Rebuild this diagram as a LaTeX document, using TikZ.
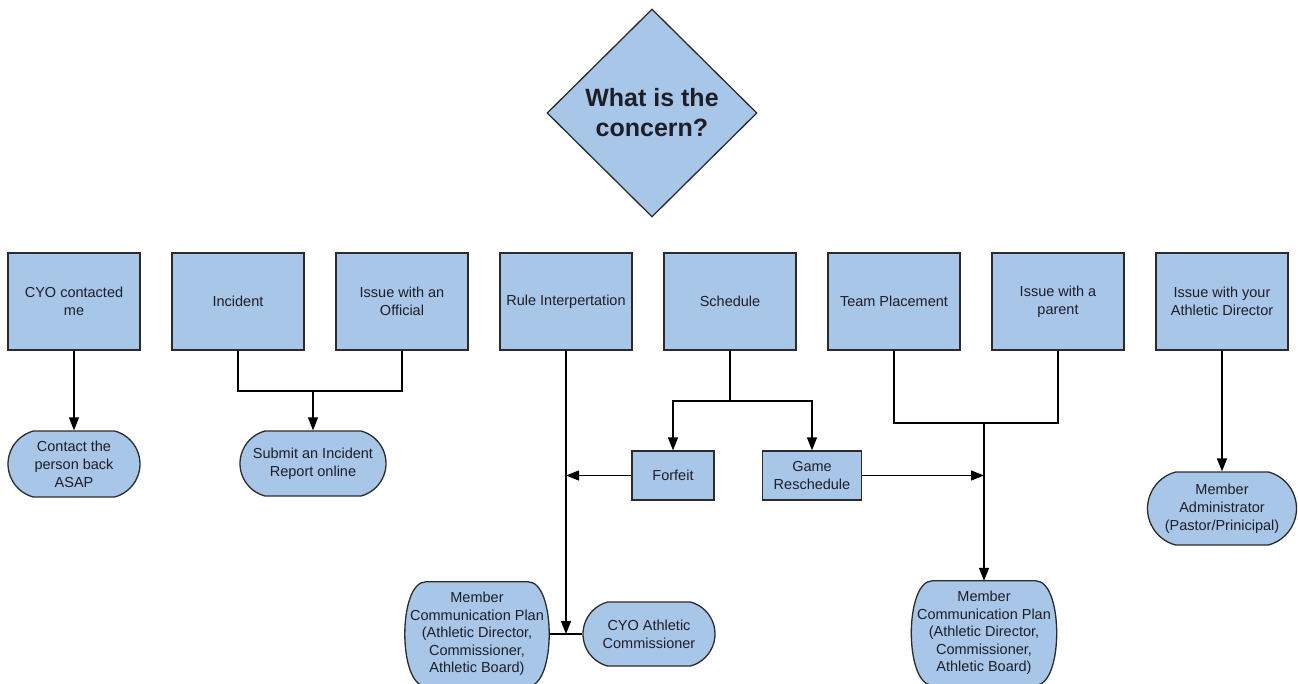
\documentclass[tikz,border=0pt]{standalone}
\usepackage{fontspec}
\setmainfont{Liberation Sans}
\usetikzlibrary{shapes.geometric,shapes.misc,arrows.meta,backgrounds,calc}
\definecolor{boxblue}{HTML}{A8C6E8}
\definecolor{edgecol}{HTML}{2B2B2B}
\definecolor{txtcol}{HTML}{1E1E28}
\tikzset{
  base/.style={draw=edgecol, fill=boxblue, line width=1.3pt, align=center, inner sep=0pt, text=txtcol,
    font=\fontsize{14.5}{18}\selectfont},
  stepbox/.style={base, rectangle, minimum width=132pt, minimum height=97pt},
  smallbox/.style={base, rectangle, minimum height=49pt},
  term/.style={base, rounded rectangle, rounded rectangle arc length=150},
  tallterm/.style={rectangle, align=center, inner sep=0pt, text=txtcol,
    minimum width=144pt, minimum height=104pt, font=\fontsize{14.5}{17.5}\selectfont},
  termline/.style={draw=edgecol, fill=boxblue, line width=1.3pt},
  decision/.style={base, diamond, shape aspect=1, minimum width=210pt, minimum height=208pt,
    font=\fontsize{25}{30}\bfseries\selectfont},
  conn/.style={line width=1.3pt, draw=black},
  arr/.style={conn, -{Triangle[length=13pt,width=10pt]}}
}
\begin{document}
\begin{tikzpicture}[x=1pt,y=-1pt]
\useasboundingbox (0,0) rectangle (1298,683);
\node[decision] (q) at (652,113) {What is the\\concern?};
\node[stepbox] (b1) at (74,301.5) {CYO contacted\\me};
\node[stepbox] (b2) at (238,301.5) {Incident};
\node[stepbox] (b3) at (402,301.5) {Issue with an\\Official};
\node[stepbox] (b4) at (566,301.5) {Rule Interpertation};
\node[stepbox] (b5) at (730,301.5) {Schedule};
\node[stepbox] (b6) at (894,301.5) {Team Placement};
\node[stepbox] (b7) at (1058,301.5) {Issue with a\\parent};
\node[stepbox] (b8) at (1222,301.5) {Issue with your\\Athletic Director};

\node[term, minimum width=132pt, minimum height=66pt] (t1) at (74,464) {Contact the\\person back\\ASAP};
\node[term, minimum width=146pt, minimum height=65pt] (t2) at (313,463.5) {Submit an Incident\\Report online};
\node[smallbox, minimum width=82pt] (ff) at (673,475.5) {Forfeit};
\node[smallbox, minimum width=99pt] (gr) at (812,475.5) {Game\\Reschedule};
\node[tallterm] (t3) at (477,634) {Member\\Communication Plan\\(Athletic Director,\\Commissioner,\\Athletic Board)};
\node[term, minimum width=132pt, minimum height=64pt] (t4) at (649,634) {CYO Athletic\\Commissioner};
\node[tallterm, minimum width=145pt] (t5) at (984,633) {Member\\Communication Plan\\(Athletic Director,\\Commissioner,\\Athletic Board)};
\node[term, minimum width=149pt, minimum height=73pt] (t6) at (1222,508.5) {Member\\Administrator\\(Pastor/Prinicipal)};

\begin{scope}[on background layer]
\foreach \n in {t3,t5}{
  \draw[termline] ($(\n.north west)+(21,0)$) -- ($(\n.north east)+(-21,0)$)
    .. controls ($(\n.north east)+(7,0)$) and ($(\n.south east)+(7,0)$) .. ($(\n.south east)+(-21,0)$)
    -- ($(\n.south west)+(21,0)$)
    .. controls ($(\n.south west)+(-7,0)$) and ($(\n.north west)+(-7,0)$) .. cycle;
}
\end{scope}

\coordinate (j1) at (313,391);
\coordinate (j2) at (566,634);
\coordinate (j3) at (730,401);
\coordinate (j4) at (566,475.5);
\coordinate (j5) at (984,475.5);
\coordinate (j6) at (984,423);

\draw[arr] (b1.south) -- (t1.north);
\draw[conn] (b2.south) |- (j1) -| (b3.south);
\draw[arr] (j1) -- (t2.north);
\draw[arr] (b4.south) -- (j2);
\draw[conn] (t3.east) -- (t4.west);
\draw[conn] (b5.south) -- (j3);
\draw[arr] (j3) -| (ff.north);
\draw[arr] (j3) -| (gr.north);
\draw[arr] (ff.west) -- (j4);
\draw[arr] (gr.east) -- (j5);
\draw[conn] (b6.south) |- (j6) -| (b7.south);
\draw[arr] (j6) -- (t5.north);
\draw[arr] (b8.south) -- (t6.north);
\end{tikzpicture}
\end{document}
